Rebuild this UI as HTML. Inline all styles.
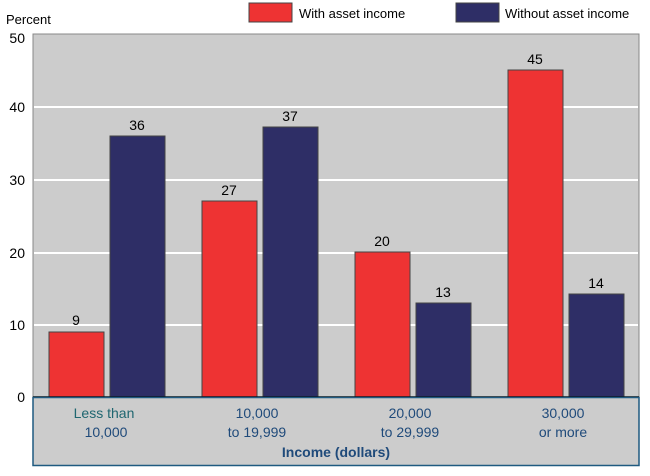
<!DOCTYPE html><html><head><style>body{margin:0;background:#fff}svg text{font-family:"Liberation Sans",sans-serif}</style></head><body>
<svg width="650" height="471" xmlns="http://www.w3.org/2000/svg">
<rect x="33" y="34" width="606" height="363" fill="#cccccc" stroke="#888" stroke-width="1"/>
<g stroke="#fff" stroke-width="2">
<line x1="34" x2="638" y1="107" y2="107"/><line x1="34" x2="638" y1="180" y2="180"/>
<line x1="34" x2="638" y1="253" y2="253"/><line x1="34" x2="638" y1="325" y2="325"/></g>
<g font-size="14" fill="#000" text-anchor="end">
<text x="25" y="43">50</text><text x="25" y="112">40</text><text x="25" y="185">30</text><text x="25" y="258">20</text><text x="25" y="330">10</text><text x="25" y="402">0</text></g>
<text x="6" y="24" font-size="13">Percent</text>
<rect x="249" y="3" width="43" height="19" fill="#ee3333" stroke="#444"/>
<text x="299" y="18" font-size="13">With asset income</text>
<rect x="456" y="3" width="43" height="19" fill="#2e2e66" stroke="#444"/>
<text x="505" y="18" font-size="13">Without asset income</text>
<g stroke="#444" stroke-width="1">
<rect x="49" y="332" width="55" height="65" fill="#ee3333"/>
<rect x="110" y="136" width="55" height="261" fill="#2e2e66"/>
<rect x="202" y="201" width="55" height="196" fill="#ee3333"/>
<rect x="263" y="127" width="55" height="270" fill="#2e2e66"/>
<rect x="355" y="252" width="55" height="145" fill="#ee3333"/>
<rect x="416" y="303" width="55" height="94" fill="#2e2e66"/>
<rect x="508" y="70" width="55" height="327" fill="#ee3333"/>
<rect x="569" y="294" width="55" height="103" fill="#2e2e66"/></g>
<g font-size="14" text-anchor="middle">
<text x="76" y="325">9</text><text x="137" y="130">36</text>
<text x="229" y="195">27</text><text x="290" y="121">37</text>
<text x="382" y="246">20</text><text x="443" y="297">13</text>
<text x="535" y="64">45</text><text x="596" y="288">14</text></g>
<line x1="33" x2="639" y1="397" y2="397" stroke="#000" stroke-width="1.5"/>
<rect x="33" y="397.5" width="606" height="68" fill="#cccccc" stroke="#1f5a80" stroke-width="1.5"/>
<g font-size="14" fill="#1f4a7a" text-anchor="middle">
<text x="104" y="418" fill="#1f6670">Less than</text><text x="106" y="437">10,000</text>
<text x="257" y="418">10,000</text><text x="257" y="437">to 19,999</text>
<text x="410" y="418">20,000</text><text x="410" y="437">to 29,999</text>
<text x="563" y="418">30,000</text><text x="563" y="437">or more</text>
<text x="336" y="457" font-weight="bold">Income (dollars)</text></g>
</svg></body></html>
